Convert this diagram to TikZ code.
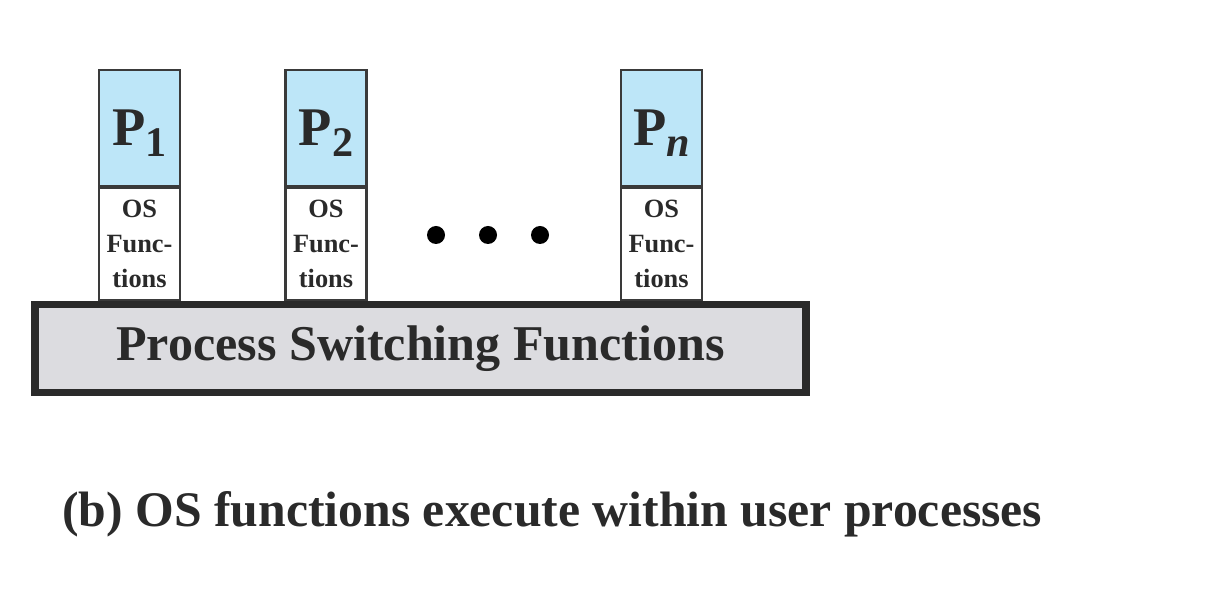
\documentclass[tikz,border=0pt]{standalone}
\usepackage{fontspec}
\setmainfont{Liberation Serif}
\usetikzlibrary{positioning}
\definecolor{procblue}{HTML}{BDE6F8}
\definecolor{basegray}{HTML}{DCDCE0}
\definecolor{edgegray}{HTML}{3A3A3A}
\definecolor{inkgray}{HTML}{2A2A2A}
\newcommand{\psub}[1]{P\raisebox{-0.2em}[0pt][0pt]{\fontsize{24}{24}\selectfont #1}}
\tikzset{
  proc/.style={draw=edgegray, line width=1.2pt, fill=procblue, text=inkgray,
    minimum width=1.62cm, minimum height=2.32cm, inner sep=0pt,
    font=\fontsize{31}{31}\selectfont\bfseries},
  osfun/.style={draw=edgegray, line width=1.2pt, fill=white, text=inkgray,
    minimum width=1.62cm, minimum height=2.24cm, inner sep=0pt, align=center,
    font=\fontsize{15}{20}\selectfont\bfseries},
  switchbox/.style={draw=inkgray, line width=4.5pt, fill=basegray, text=inkgray,
    minimum width=15.42cm, minimum height=1.76cm, inner sep=0pt,
    font=\fontsize{28.5}{28.5}\selectfont\bfseries},
  dotmark/.style={circle, fill=black, minimum size=0.36cm, inner sep=0pt}
}
\begin{document}
\begin{tikzpicture}
\useasboundingbox (0,0) rectangle (24.16,11.92);

% Process switching functions at the bottom
\node[switchbox] (psf) at (8.41,4.95) {Process Switching Functions};

% User processes
\node[proc] (p1) at (2.79,9.36) {\psub{1}};
\node[proc] (p2) at (6.52,9.36) {\psub{2}};
\node[proc] (pn) at (13.23,9.36) {\psub{\itshape n}};

% OS functions below each process
\node[osfun, below=0pt of p1] (os1) {OS\\Func-\\tions};
\node[osfun, below=0pt of p2] (os2) {OS\\Func-\\tions};
\node[osfun, below=0pt of pn] (osn) {OS\\Func-\\tions};

% Dots
\foreach \x/\name in {8.72/d1, 9.76/d2, 10.80/d3}
  \node[dotmark] (\name) at (\x,7.22) {};

% Caption
\node[anchor=base west, text=inkgray, inner sep=0pt,
  font=\fontsize{28.3}{28.3}\selectfont\bfseries] (cap) at (1.24,1.38)
  {(b) OS functions execute within user processes};
\end{tikzpicture}
\end{document}
